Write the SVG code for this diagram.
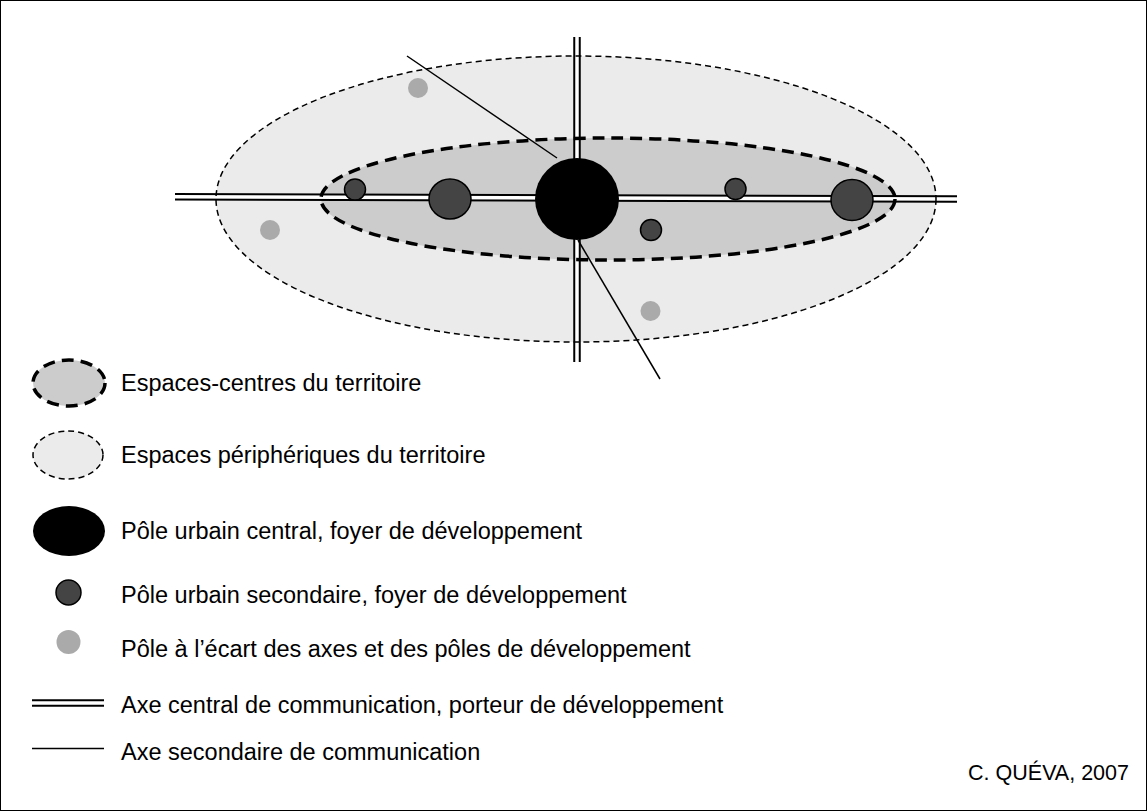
<svg xmlns="http://www.w3.org/2000/svg" width="1147" height="811" viewBox="0 0 1147 811">
<style>
text{font-family:"Liberation Sans",Arial,sans-serif;font-size:23.5px;fill:#000}
.axb{stroke:#000;stroke-width:7.5;fill:none}
.axw{stroke:#fff;stroke-width:3.5;fill:none}
.sec{stroke:#000;stroke-width:1.5;fill:none}
.cen{fill:#cccccc}
.per{fill:#ebebeb}
.cenS{fill:none;stroke:#000;stroke-width:3.5;stroke-dasharray:12 7}
.perS{fill:none;stroke:#000;stroke-width:1.5;stroke-dasharray:6 4}
.p2{fill:#444;stroke:#000;stroke-width:1.5}
.p3{fill:#aaa}
</style>
<rect x="0.5" y="0.5" width="1146" height="810" fill="#fff" stroke="#000" stroke-width="1"/>
<g id="peripheral-space">
<ellipse class="per" cx="576" cy="199" rx="360" ry="143"/>
</g>
<g id="central-space">
<ellipse class="cen" cx="608" cy="199" rx="287" ry="61"/>
</g>
<g id="connectors">
<line class="axb" x1="175" y1="196.7" x2="957" y2="199"/>
<line class="axw" x1="175" y1="196.7" x2="957" y2="199"/>
<line class="axb" x1="577" y1="37" x2="577" y2="362"/>
<line class="axw" x1="577" y1="37" x2="577" y2="362"/>
<line class="sec" x1="407" y1="56" x2="557" y2="158"/>
<line class="sec" x1="578" y1="240" x2="660" y2="379"/>
</g>
<g id="borders">
<ellipse class="perS" cx="576" cy="199" rx="360" ry="143"/>
<ellipse class="cenS" cx="608" cy="199" rx="287" ry="61"/>
</g>
<g id="pole-central"><ellipse cx="577" cy="199" rx="42" ry="41" fill="#000"/></g>
<g id="pole-s1"><circle class="p2" cx="355" cy="189.5" r="10.5"/></g>
<g id="pole-s2"><ellipse class="p2" cx="450" cy="199" rx="21" ry="20"/></g>
<g id="pole-s3"><circle class="p2" cx="735.5" cy="189" r="10.5"/></g>
<g id="pole-s4"><circle class="p2" cx="651" cy="230" r="10.5"/></g>
<g id="pole-s5"><ellipse class="p2" cx="852" cy="200" rx="21" ry="20.5"/></g>
<g id="pole-e1"><circle class="p3" cx="418" cy="88" r="10"/></g>
<g id="pole-e2"><circle class="p3" cx="270" cy="230" r="10"/></g>
<g id="pole-e3"><circle class="p3" cx="650.5" cy="311" r="10"/></g>
<g id="legend">
<g id="leg-1"><ellipse cx="69" cy="383" rx="36" ry="23" fill="#ccc" stroke="#000" stroke-width="3.5" stroke-dasharray="12 7"/><text x="121" y="391">Espaces-centres du territoire</text></g>
<g id="leg-2"><ellipse cx="68" cy="455" rx="35" ry="24" fill="#ebebeb" stroke="#000" stroke-width="1.5" stroke-dasharray="6 4"/><text x="121" y="463">Espaces périphériques du territoire</text></g>
<g id="leg-3"><ellipse cx="69" cy="531" rx="36" ry="25" fill="#000"/><text x="121" y="539">Pôle urbain central, foyer de développement</text></g>
<g id="leg-4"><circle cx="68.5" cy="592.5" r="12.5" fill="#444" stroke="#000" stroke-width="1.5"/><text x="121" y="603">Pôle urbain secondaire, foyer de développement</text></g>
<g id="leg-5"><circle cx="68.5" cy="642" r="12" fill="#aaa"/><text x="121" y="657">Pôle à l’écart des axes et des pôles de développement</text></g>
<g id="leg-6"><line x1="32" y1="703" x2="104" y2="703" stroke="#000" stroke-width="7.5"/><line x1="32" y1="703" x2="104" y2="703" stroke="#fff" stroke-width="3.5"/><text x="121" y="713">Axe central de communication, porteur de développement</text></g>
<g id="leg-7"><line x1="32" y1="748.5" x2="104" y2="748.5" stroke="#000" stroke-width="1.5"/><text x="121" y="760">Axe secondaire de communication</text></g>
</g>
<text x="1129" y="780" text-anchor="end" style="font-size:21.5px">C. QUÉVA, 2007</text>
</svg>
